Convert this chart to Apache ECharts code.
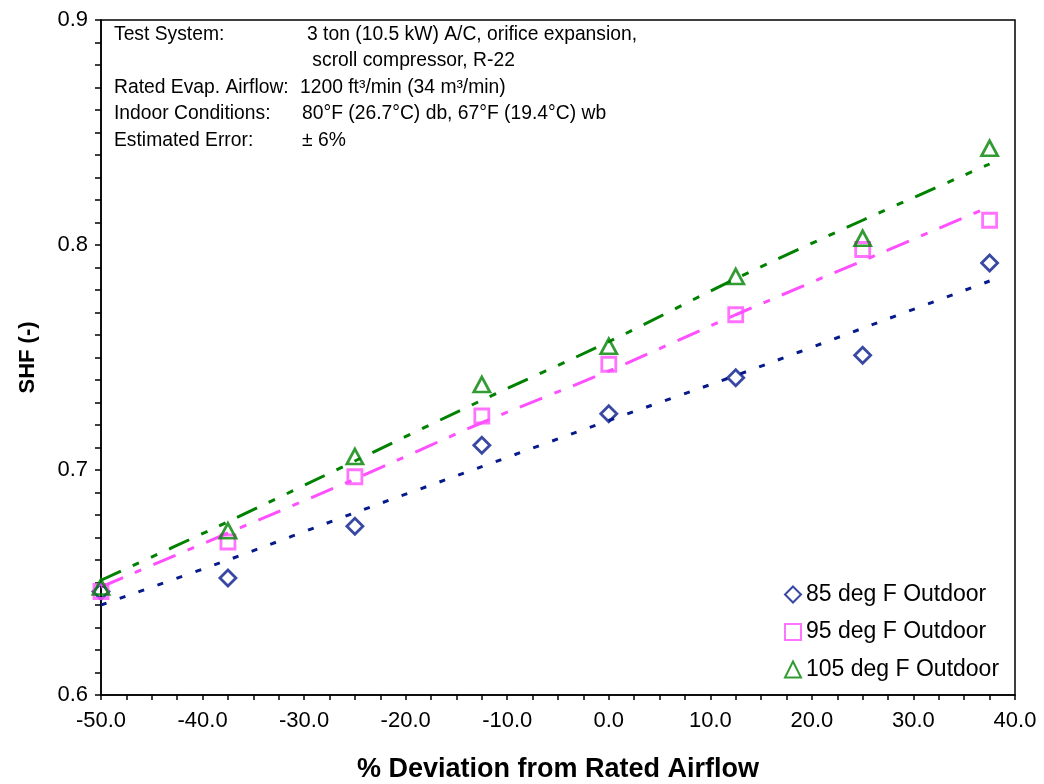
<!DOCTYPE html>
<html>
<head>
<meta charset="utf-8">
<script src="https://cdn.jsdelivr.net/npm/echarts@6/dist/echarts.min.js"></script>
<style>
html,body{margin:0;padding:0;background:#fff;}
#chart{width:1044px;height:784px;}
</style>
</head>
<body>
<div id="chart"></div>
<script>
// ---- data ----
var airflowDeviation = [-50, -37.5, -25, -12.5, 0, 12.5, 25, 37.5];
var shf85 = [0.646, 0.652, 0.675, 0.711, 0.725, 0.741, 0.751, 0.792];
var shf95 = [0.646, 0.668, 0.697, 0.724, 0.747, 0.769, 0.798, 0.811];
var shf105 = [0.648, 0.673, 0.706, 0.738, 0.755, 0.786, 0.803, 0.843];
// trend lines
var trend85 = [0.640, 0.660, 0.681, 0.7015, 0.722, 0.742, 0.763, 0.784];
var trend95 = [0.648, 0.672, 0.696, 0.721, 0.744, 0.769, 0.793, 0.817];
var trend105 = [0.651, 0.677, 0.704, 0.731, 0.757, 0.785, 0.811, 0.836];
var seriesNames = ['85 deg F Outdoor', '95 deg F Outdoor', '105 deg F Outdoor'];
var xTitle = '% Deviation from Rated Airflow';
var yTitle = 'SHF (-)';
var noteLabels = ['Test System:', '', 'Rated Evap. Airflow:', 'Indoor Conditions:', 'Estimated Error:'];
var noteValues = ['3 ton (10.5 kW) A/C, orifice expansion,', ' scroll compressor, R-22', '1200 ft\u00B3/min (34 m\u00B3/min)', '80\u00B0F (26.7\u00B0C) db, 67\u00B0F (19.4\u00B0C) wb', '\u00B1 6%'];

function pairs(xs, ys){ return xs.map(function(x,i){ return [x, ys[i]]; }); }

var FONT = '"Liberation Sans", Arial, sans-serif';
var colors = ['#061A8C', '#FF50FF', '#008200'];
var symbols = ['diamond', 'rect', 'triangle'];
var symSizes = [[16,16],[14,14],[16,15]];
var dashes = [[6, 14], [24, 13, 7, 13], [22, 13, 7, 13, 7, 13]];
var shfData = [shf85, shf95, shf105];
var trendData = [trend85, trend95, trend105];

var series = [];
for (var i = 0; i < 3; i++) {
  series.push({
    name: 'trend' + i,
    type: 'line',
    data: pairs(airflowDeviation, trendData[i]),
    showSymbol: false,
    symbol: 'none',
    smooth: 0.3,
    lineStyle: { color: colors[i], width: 3, type: dashes[i] },
    z: 2,
    silent: true
  });
}
for (var j = 0; j < 3; j++) {
  series.push({
    name: seriesNames[j],
    type: 'scatter',
    data: pairs(airflowDeviation, shfData[j]),
    symbol: symbols[j],
    symbolSize: symSizes[j],
    itemStyle: { color: 'rgba(255,255,255,0)', borderColor: colors[j], borderWidth: 2.8 },
    z: 3
  });
}

var graphics = [];
var lineY = [25, 51.5, 78, 104.5, 131];
for (var k = 0; k < noteLabels.length; k++) {
  graphics.push({ type: 'text', left: 114, top: lineY[k], style: { text: noteLabels[k], font: '19.3px ' + FONT, fill: '#000' } });
  graphics.push({ type: 'text', left: (k < 2 ? 307 : (k === 2 ? 300 : 302)), top: lineY[k], style: { text: noteValues[k], font: '19.3px ' + FONT, fill: '#000' } });
}

var option = {
  backgroundColor: '#fff',
  animation: false,
  textStyle: { fontFamily: FONT },
  grid: { left: 101, right: 29, top: 20, bottom: 89, show: true, borderColor: '#000', borderWidth: 1.5, backgroundColor: 'transparent', containLabel: false, outerBoundsMode: 'none' },
  legend: {
    data: seriesNames,
    orient: 'vertical',
    left: 779,
    top: 578,
    itemWidth: 16,
    itemHeight: 16,
    itemGap: 14.5,
    textStyle: { fontSize: 23, color: '#000', fontFamily: FONT }
  },
  xAxis: {
    type: 'value',
    min: -50, max: 40, interval: 10,
    name: xTitle,
    nameLocation: 'middle',
    nameGap: 61,
    nameTextStyle: { fontSize: 27, fontWeight: 'bold', color: '#000', fontFamily: FONT },
    axisLine: { show: true, onZero: false, lineStyle: { color: '#000', width: 1.5 } },
    axisTick: { show: true, inside: false, length: 5, lineStyle: { color: '#000', width: 1.5 } },
    minorTick: { show: true, splitNumber: 4, length: 5, lineStyle: { color: '#000', width: 1.5 } },
    axisLabel: { fontSize: 22, color: '#000', margin: 15, fontFamily: FONT, formatter: function(v){ return v.toFixed(1); } },
    splitLine: { show: false }
  },
  yAxis: {
    type: 'value',
    min: 0.6, max: 0.9, interval: 0.1,
    name: yTitle,
    nameLocation: 'middle',
    nameGap: 62,
    nameTextStyle: { fontSize: 22, fontWeight: 'bold', color: '#000', fontFamily: FONT },
    axisLine: { show: true, onZero: false, lineStyle: { color: '#000', width: 1.5 } },
    axisTick: { show: true, inside: false, length: 6, lineStyle: { color: '#000', width: 1.5 } },
    minorTick: { show: true, splitNumber: 10, length: 6, lineStyle: { color: '#000', width: 1.5 } },
    axisLabel: { fontSize: 22, color: '#000', margin: 13, fontFamily: FONT, formatter: function(v){ return v.toFixed(1); } },
    splitLine: { show: false }
  },
  graphic: graphics,
  series: series
};

var chart = echarts.init(document.getElementById('chart'), null, { renderer: 'canvas' });
chart.setOption(option);
</script>
</body>
</html>
